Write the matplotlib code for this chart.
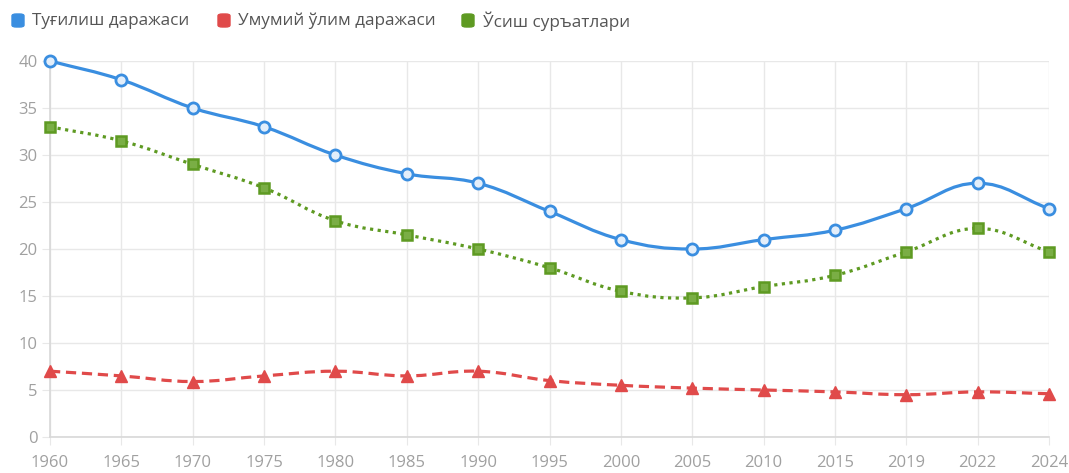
import matplotlib
matplotlib.use("Agg")
import matplotlib.pyplot as plt
import numpy as np
from matplotlib.path import Path
from matplotlib.patches import PathPatch, FancyBboxPatch

# data
years = ["1960", "1965", "1970", "1975", "1980", "1985", "1990", "1995",
         "2000", "2005", "2010", "2015", "2019", "2022", "2024"]
birth = [40, 38, 35, 33, 30, 28, 27, 24, 21, 20, 21, 22, 24.3, 27, 24.3]
death = [7, 6.5, 5.9, 6.5, 7, 6.5, 7, 6, 5.5, 5.2, 5, 4.8, 4.5, 4.8, 4.6]
growth = [33, 31.5, 29, 26.5, 23, 21.5, 20, 18, 15.5, 14.8, 16, 17.2, 19.7, 22.2, 19.7]
series_names = ["Туғилиш даражаси", "Умумий ўлим даражаси", "Ўсиш суръатлари"]

blue = "#3a8ee0"
red = "#e04a4a"
green = "#5e9a22"
grid_c = "#e8e8e8"
tick_c = "#a0a0a0"

plt.rcParams['font.family'] = ['Open Sans', 'DejaVu Sans']

W, H = 1069, 473
fig = plt.figure(figsize=(W / 100, H / 100), dpi=100)
ax = fig.add_axes([50 / W, 36 / H, 999 / W, 376 / H])
x = np.arange(len(years))
ax.set_xlim(0, len(years) - 1)
ax.set_ylim(0, 40)


def smooth_path(xs, ys, tension=0.4):
    # same control points as a chart.js bezier curve, computed in pixels
    pts = ax.transData.transform(np.column_stack([xs, ys]))
    n = len(pts)
    cp_prev, cp_next = [], []
    for i in range(n):
        prev, cur, nxt = pts[max(i - 1, 0)], pts[i], pts[min(i + 1, n - 1)]
        d01 = np.hypot(*(cur - prev))
        d12 = np.hypot(*(nxt - cur))
        tot = d01 + d12
        s01 = d01 / tot if tot else 0
        s12 = d12 / tot if tot else 0
        cp_prev.append(cur - tension * s01 * (nxt - prev))
        cp_next.append(cur + tension * s12 * (nxt - prev))
    verts = [pts[0]]
    codes = [Path.MOVETO]
    for i in range(n - 1):
        verts += [cp_next[i], cp_prev[i + 1], pts[i + 1]]
        codes += [Path.CURVE4] * 3
    return Path(ax.transData.inverted().transform(np.array(verts)), codes)


ax.add_patch(PathPatch(smooth_path(x, birth), fill=False, edgecolor=blue,
                       lw=2.3, zorder=3, clip_on=False))
ax.add_patch(PathPatch(smooth_path(x, death), fill=False, edgecolor=red,
                       lw=2.3, linestyle=(0, (3.2, 1.8)), zorder=3, clip_on=False))
ax.add_patch(PathPatch(smooth_path(x, growth), fill=False, edgecolor=green,
                       lw=2.3, linestyle=(0, (1, 1.4)), zorder=3, clip_on=False))

ax.plot(x, birth, 'o', ms=8, mfc="#e3eefa", mec=blue, mew=2, zorder=4, clip_on=False)
ax.plot(x, death, '^', ms=8.5, mfc=red, mec=red, mew=1, zorder=4, clip_on=False)
ax.plot(x, growth, 's', ms=6.5, mfc="#7aae45", mec=green, mew=1.8, zorder=4, clip_on=False)

ax.set_xticks(x)
ax.set_xticklabels(years)
ax.set_yticks(range(0, 41, 5))
ax.grid(True, color=grid_c, lw=1)
ax.set_axisbelow(True)
for s in ["top", "right"]:
    ax.spines[s].set_visible(False)
for s in ["left", "bottom"]:
    ax.spines[s].set_color("#d8d8d8")
    ax.spines[s].set_linewidth(1.2)
ax.tick_params(axis='both', length=6, color=grid_c, labelcolor=tick_c,
               labelsize=12)
ax.tick_params(axis='x', pad=7)
ax.tick_params(axis='y', pad=3)

# legend drawn by hand across the top
legend_items = [(12, 32, blue), (218, 238, red), (462, 483, green)]
for (bx, tx, col), name in zip(legend_items, series_names):
    fig.patches.append(FancyBboxPatch((bx / W, 1 - 27 / H), 12 / W, 13 / H,
                                      boxstyle="round,pad=0,rounding_size=0.004",
                                      transform=fig.transFigure, fc=col, ec=col))
    fig.text(tx / W, 1 - 21 / H, name, fontsize=12.3, color="#555555",
             va="center", ha="left")

fig.savefig("out.png", dpi=100)
